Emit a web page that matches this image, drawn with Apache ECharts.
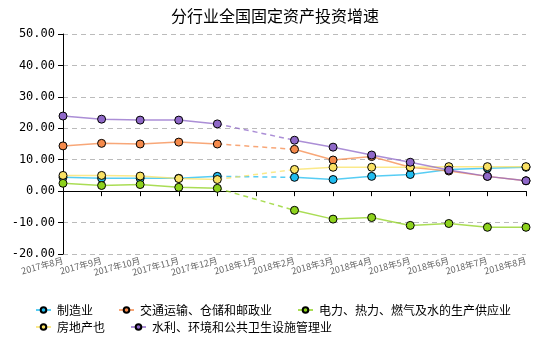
<!DOCTYPE html>
<html><head><meta charset="utf-8">
<script src="https://cdn.jsdelivr.net/npm/echarts@6/dist/echarts.min.js"></script>
<style>html,body{margin:0;padding:0;background:#fff}#c{width:550px;height:350px}</style>
</head><body><div id="c"></div>
<script>
const categories = ['2017年8月','2017年9月','2017年10月','2017年11月','2017年12月','2018年1月','2018年2月','2018年3月','2018年4月','2018年5月','2018年6月','2018年7月','2018年8月'];
const names = ['制造业','交通运输、仓储和邮政业','电力、热力、燃气及水的生产供应业','房地产也','水利、环境和公共卫生设施管理业'];
const manufacturing = [4.4,4.1,4.1,4.1,4.7,null,4.4,3.7,4.7,5.3,6.9,7.3,7.6];
const transport = [14.4,15.2,15.0,15.6,15.0,null,13.3,9.9,11.0,7.6,6.4,4.7,3.3];
const utilities = [2.5,1.8,2.1,1.2,0.9,null,-6.1,-8.9,-8.4,-10.9,-10.3,-11.5,-11.5];
const realEstate = [5.0,5.0,4.8,4.0,3.7,null,6.9,7.6,7.6,7.6,7.8,7.8,7.8];
const water = [23.9,22.9,22.6,22.6,21.4,null,16.2,14.0,11.5,9.2,6.7,4.7,3.3];
const yTicks = [-20,-10,0,10,20,30,40,50];
const colors = ['#1fbcf0','#f58a4b','#8dd21c','#f9e163','#8f68c8'];
const values = [manufacturing, transport, utilities, realEstate, water];

const series = [];
values.forEach((d,i)=>{
  series.push({
    name: names[i], type:'line', data:d, connectNulls:false,
    symbol:'circle', symbolSize:8, z:3,
    itemStyle:{color:colors[i], borderColor:'#000', borderWidth:1},
    lineStyle:{color:colors[i], width:1.5, opacity:0.75}
  });
});
values.forEach((d,i)=>{
  const gap = d.map((v,k)=> (k===4||k===6)? v : null);
  series.push({
    name: names[i], type:'line', data:gap, connectNulls:true,
    symbol:'none', z:2, silent:true,
    itemStyle:{color:colors[i]},
    lineStyle:{color:colors[i], width:1.5, type:[5,4], opacity:0.75}
  });
});

const legendBase = {
  itemGap:25, itemWidth:15, itemHeight:7, padding:0, orient:'horizontal',
  textStyle:{fontSize:12, color:'#000', fontFamily:'Noto Sans CJK SC', padding:[0,0,0,1]}
};

const chart = echarts.init(document.getElementById('c'), null, {renderer:'canvas'});
chart.setOption({
  animation:false,
  color: colors,
  title:{text:'分行业全国固定资产投资增速', left:'center', top:3,
    textStyle:{fontSize:16, fontWeight:'normal', color:'#000', fontFamily:'Noto Sans CJK SC'}},
  grid:{left:63, right:24, top:34, bottom:96},
  legend:[
    Object.assign({data:names.slice(0,3), left:35, top:304}, legendBase),
    Object.assign({data:names.slice(3), left:35, top:321}, legendBase)
  ],
  xAxis:{
    type:'category', data:categories, boundaryGap:false,
    axisLine:{lineStyle:{color:'#000'}},
    axisTick:{show:true, alignWithLabel:true, lineStyle:{color:'#000'}},
    axisLabel:{rotate:15, fontSize:9, color:'#666', interval:0, margin:6, fontFamily:'Noto Sans CJK SC'},
    splitLine:{show:false}
  },
  yAxis:{
    type:'value', min:yTicks[0], max:yTicks[yTicks.length-1], interval:10,
    axisLine:{show:true, lineStyle:{color:'#000'}},
    axisTick:{show:true, lineStyle:{color:'#000'}},
    axisLabel:{fontSize:12, color:'#000', formatter:v=>v.toFixed(2), fontFamily:'DejaVu Sans Mono'},
    splitLine:{show:true, lineStyle:{color:'#bbb', type:[5,4]}}
  },
  series: series
});
</script></body></html>
